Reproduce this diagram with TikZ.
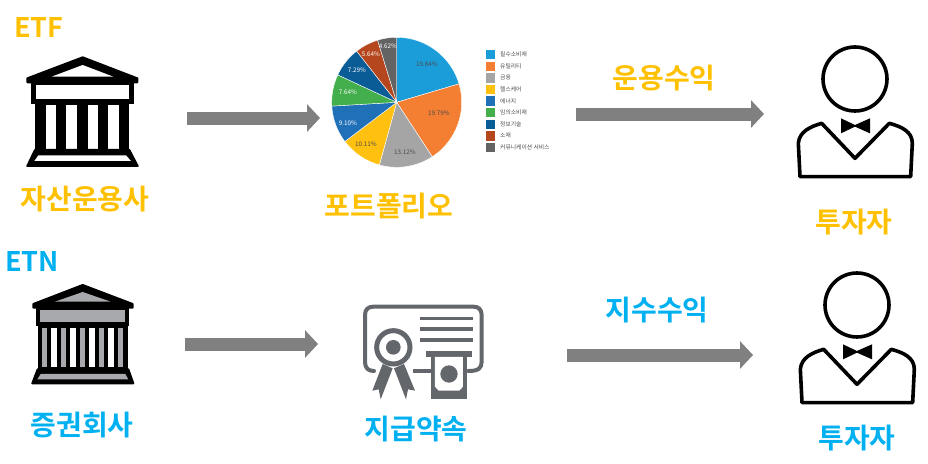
\documentclass[tikz,border=0pt]{standalone}
\usepackage{fontspec}
\newfontfamily\krfont{Noto Sans CJK KR}[BoldFont={Noto Sans CJK KR Bold}]
\usepackage{tikz}
\usetikzlibrary{arrows.meta}
\definecolor{etfcol}{HTML}{FFC000}
\definecolor{etncol}{HTML}{00B0F0}
\definecolor{flowcol}{HTML}{808080}
\definecolor{certcol}{HTML}{63666A}
\definecolor{bankgray}{HTML}{A7A9AC}
\tikzset{
  etf/.style   = {font=\krfont\bfseries\fontsize{28}{28}\selectfont, text=etfcol, inner sep=0pt},
  etn/.style   = {font=\krfont\bfseries\fontsize{28}{28}\selectfont, text=etncol, inner sep=0pt},
  flow/.style  = {draw=flowcol, line width=13pt, -{Triangle[length=13pt,width=27pt]}},
  pct/.style   = {font=\krfont\fontsize{6.3}{6.3}\selectfont, inner sep=0pt},
  lgd/.style   = {font=\krfont\fontsize{5.8}{5.8}\selectfont, text=black!70, inner sep=0pt, anchor=west},
  person/.pic  = {
    \begin{scope}[x=0.3333pt,y=-0.3333pt]
      \draw[line width=3.6pt] (225,147) circle[radius=96];
      \draw[line width=3.6pt, line join=round] (60,440) -- (55,340) .. controls (58,305) and (90,290) .. (125,280)
        -- (225,385) -- (328,280) .. controls (365,290) and (397,305) .. (397,340) -- (392,440) -- cycle;
      \fill (183,265) -- (225,285) -- (270,265) -- (270,310) -- (225,290) -- (183,310) -- cycle;
    \end{scope}
  }
}

\begin{document}
\begin{tikzpicture}[x=1pt,y=-1pt]
  \useasboundingbox (0,0) rectangle (928,463);

  % upper row
  \node[etf,font=\krfont\bfseries\fontsize{27}{27}\selectfont] (etf) at ( 39, 27){ETF};
  \node[etf] (asset)   at ( 85,199){자산운용사};
  \node[etf] (folio)   at (389,206){포트폴리오};
  \node[etf] (income1) at (664, 78){운용수익};
  \node[etf] (invest1) at (854,222){투자자};

  % lower row
  \node[etn,font=\krfont\bfseries\fontsize{27}{27}\selectfont] (etn) at ( 32,261){ETN};
  \node[etn] (broker)  at ( 82,425){증권회사};
  \node[etn] (promise) at (416,429){지급약속};
  \node[etn] (income2) at (657,310){지수수익};
  \node[etn] (invest2) at (857,438){투자자};

  % arrows
  \coordinate (a1) at (187,118);
  \coordinate (b1) at (320,118);
  \coordinate (a2) at (576,114);
  \coordinate (b2) at (764,114);
  \coordinate (a3) at (185,344);
  \coordinate (b3) at (318,344);
  \coordinate (a4) at (567,355);
  \coordinate (b4) at (753,355);
  \draw[flow] (a1) -- (b1);
  \draw[flow] (a2) -- (b2);
  \draw[flow] (a3) -- (b3);
  \draw[flow] (a4) -- (b4);

  % pie
  \def\ang{90}
  \foreach \val/\col/\px/\py/\tcol in {
    19.84/1B9DD9/427/64/black!70,
    19.79/F47F32/439/113/black!70,
    13.12/A5A5A5/405/152/black!70,
    10.11/FFC010/366/144/black!70,
    9.10/2070B8/348/123/white,
    7.64/43AE4C/348/92/white,
    7.29/0A5C96/357/70/white,
    5.64/B5471F/371/54/white,
    4.62/636363/388/46/white}{
    \pgfmathsetmacro{\next}{\ang-\val*360/97.15}
    \definecolor{slice}{HTML}{\col}
    \begin{scope}[shift={(396.7,102.3)},x=1pt,y=1pt]
      \fill[slice, draw=white, line width=0.4pt] (0,0) -- (\ang:65) arc[start angle=\ang, end angle=\next, radius=65] -- cycle;
    \end{scope}
    \node[pct, text=\tcol] (p\val) at (\px,\py){\val\%};
    \global\let\ang\next
  }

  % legend
  \foreach \i/\col/\txt in {
    0/1B9DD9/필수소비재, 1/F47F32/유틸리티, 2/A5A5A5/금융,
    3/FFC010/헬스케어, 4/2070B8/에너지, 5/43AE4C/임의소비재,
    6/0A5C96/정보기술, 7/B5471F/소재, 8/636363/커뮤니케이션 서비스}{
    \definecolor{slice}{HTML}{\col}
    \fill[slice] (485.7,50+\i*11.6) rectangle (495,59.3+\i*11.6);
    \node[lgd] (lgd\i) at (500,54.6+\i*11.6){\txt};
  }

  % asset manager building
  \begin{scope}[shift={(0,0)},x=0.3333pt,y=-0.3333pt]
    \fill[line join=round, draw, line width=2pt] (248,172) -- (412,235) -- (412,247) -- (82,247) -- (82,235) -- cycle;
    \fill[white] (248,195) -- (340,230) -- (155,230) -- cycle;
    \fill (93,245) rectangle (402,312);
    \fill[white] (107,254) rectangle (387,297);
    \fill (105,300) rectangle (388,460);
    \foreach \sx in {137,199,263,325}{
      \fill[white] (\sx,314) rectangle (\sx+32,447);
    }
    \fill[draw, line join=round, line width=2pt] (105,450) -- (388,450) -- (413,498) -- (82,498) -- cycle;
    \fill[white] (115,466) -- (378,466) -- (393,483) -- (103,483) -- cycle;
  \end{scope}

  % broker building
  \begin{scope}[shift={(0,240)},x=0.3333pt,y=-0.3333pt]
    \fill[line join=round, draw, line width=2pt] (248,135) -- (398,192) -- (398,203) -- (100,203) -- (100,192) -- cycle;
    \fill[bankgray] (248,156) -- (332,185) -- (165,185) -- cycle;
    \fill (108,200) rectangle (388,258);
    \fill[bankgray] (121,210) rectangle (376,246);
    \fill (113,255) rectangle (385,395);
    \foreach \sx in {125,183,240,297,355}{
      \fill[bankgray] (\sx,263) rectangle (\sx+15,382);
    }
    \foreach \sx in {153,211,268,325}{
      \fill[white] (\sx,263) rectangle (\sx+17,382);
    }
    \fill[draw, line join=round, line width=2pt] (113,388) -- (385,388) -- (400,430) -- (97,430) -- cycle;
    \fill[bankgray] (122,402) -- (376,402) -- (385,418) -- (112,418) -- cycle;
  \end{scope}

  % certificate
  \begin{scope}[shift={(340,290)},x=0.3333pt,y=-0.3333pt,draw=certcol,fill=certcol]
    \draw[line width=4pt, line cap=round] (102,243) .. controls (85,243) and (75,235) .. (75,215) -- (75,75)
      .. controls (75,58) and (85,50) .. (100,50) -- (400,50) .. controls (415,50) and (425,58) .. (425,75)
      -- (425,215) .. controls (425,235) and (415,243) .. (385,243);
    \draw[line width=4pt] (218,243) -- (272,243);
    \foreach \ly in {85,117,150}{
      \draw[line width=3.3pt] (240,\ly) -- (400,\ly);
    }
    \draw[line width=5pt] (160,172) circle[radius=50];
    \fill (160,172) circle[radius=22];
    \fill (128,222) -- (97,302) -- (116,298) -- (122,328) -- (158,235) -- cycle;
    \fill (192,222) -- (225,302) -- (204,298) -- (198,328) -- (162,235) -- cycle;
    \fill (258,183) rectangle (395,201);
    \fill (272,198) rectangle (382,328);
    \fill[white] (285,201) -- (369,201) -- (369,290) -- (358,302) -- (296,302) -- (285,290) -- cycle;
    \fill (327,252) circle[radius=26];
  \end{scope}

  % investors
  \pic at (780,30) {person};
  \pic at (782,256) {person};
\end{tikzpicture}
\end{document}
